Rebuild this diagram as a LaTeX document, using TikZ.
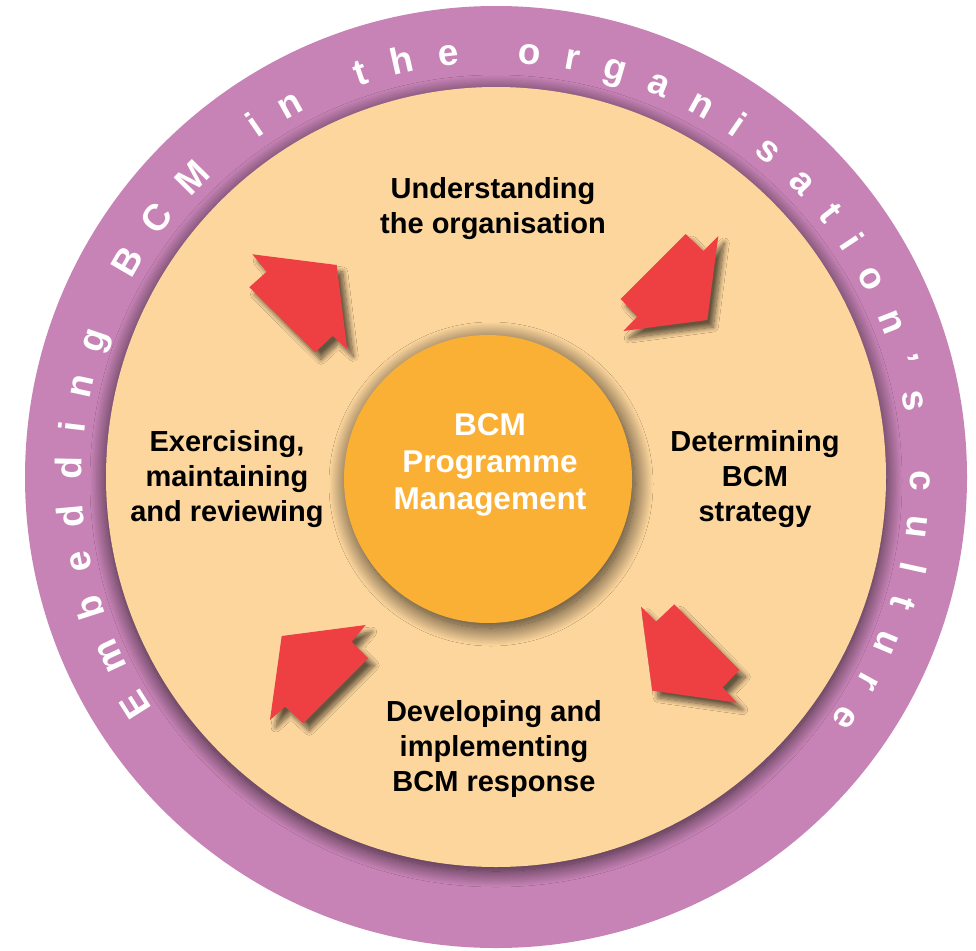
\documentclass[tikz,border=0pt]{standalone}
\usepackage{fontspec}
\setmainfont{Liberation Sans}
\usepackage{tikz}
\usetikzlibrary{calc, shadows, shadows.blur, decorations.text}
\definecolor{ringpurple}{RGB}{199,131,182}
\definecolor{peach}{RGB}{253,214,157}
\definecolor{huborange}{RGB}{250,176,52}
\definecolor{arrowred}{RGB}{238,63,67}
\newcommand{\labelfont}{\bfseries\fontsize{29}{35}\selectfont}
\newcommand{\hubfont}{\bfseries\fontsize{31.5}{37}\selectfont}
\newcommand{\ringfont}{\bfseries\fontsize{37}{37}\selectfont}
\tikzstyle{ring}=[circle, fill=ringpurple, minimum size=942, inner sep=0]
\tikzstyle{core}=[circle, fill=peach, minimum size=780, inner sep=0,
  blur shadow={shadow xshift=0pt, shadow yshift=-4pt, shadow blur radius=16pt,
    shadow blur steps=30, shadow opacity=75}]
\tikzstyle{hub}=[circle, fill=huborange, minimum size=288, inner sep=0,
  blur shadow={shadow xshift=3pt, shadow yshift=-5pt, shadow blur radius=18pt,
    shadow blur steps=30, shadow opacity=80}]
\tikzstyle{stage}=[align=center, font=\labelfont, text=black, inner sep=0]
\tikzstyle{bigarrow}=[fill=arrowred,
  blur shadow={shadow xshift=6pt, shadow yshift=-7pt, shadow blur radius=5pt,
    shadow blur steps=12, shadow opacity=60}]

\begin{document}
\begin{tikzpicture}[x=1pt, y=1pt]
    \useasboundingbox (0,0) rectangle (976,-950);
    \coordinate (c) at (496,-477);

    \node [ring] (outer) at (c) {};
    \node [core] (inner) at (c) {};

    % culture ring text
    \path [decorate, decoration={text along path, text color=white,
        text align={fit to path},
        text={|\ringfont|Embedding BCM in the organisation's culture}}]
      ($(c)+(214:414)$) arc [start angle=214, end angle=-36, radius=414];

    \node [hub] (hub) at (488,-479) {};
    \node [stage, text=white, font=\hubfont] (hub-text) at ($(hub)+(2,14)$)
      {BCM\\Programme\\Management};

    \node [stage] (understand) at (493,-209) {Understanding\\the organisation};
    \node [stage] (determine) at (755,-479) {Determining\\BCM\\strategy};
    \node [stage] (develop) at (494,-749) {Developing and\\implementing\\BCM response};
    \node [stage] (exercise) at (227,-479) {Exercising,\\maintaining\\and reviewing};

    % arrows
    \fill [bigarrow] (252.3,-254.3) -- (266.7,-271.7) -- (249.3,-287.3) -- (315,-352.3)
      -- (332.7,-336) -- (347.3,-349.3) -- (336.7,-265) -- cycle;
    \fill [bigarrow] (685.7,-234) -- (703.3,-251) -- (718.3,-236) -- (707.3,-320)
      -- (623.3,-331) -- (637.3,-316.7) -- (620.7,-299) -- cycle;
    \fill [bigarrow] (641,-606.7) -- (656,-621.7) -- (674.3,-604.3) -- (739.3,-670)
      -- (722.7,-687.3) -- (736.7,-702.7) -- (652.3,-690.7) -- cycle;
    \fill [bigarrow] (281.7,-636) -- (365.7,-625) -- (351.7,-641.7) -- (368.3,-658.3)
      -- (303.3,-723.3) -- (285,-706.7) -- (270,-720) -- cycle;
\end{tikzpicture}
\end{document}
